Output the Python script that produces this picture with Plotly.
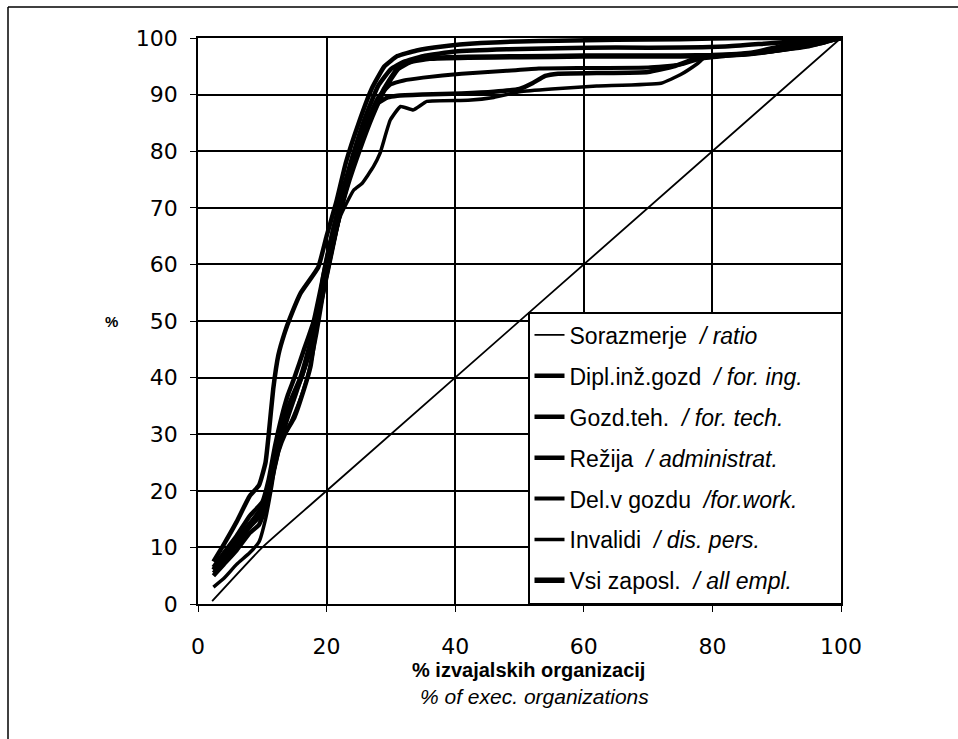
import plotly.graph_objects as go

# ---- data ----
ratio_x = [2.2, 10, 20, 100]
ratio_y = [0.5, 10, 20, 100]

dipl_x = [2.4, 4, 6, 8, 9.5, 10.5, 11, 11.7, 12.5, 13.5, 14.3, 16, 18.7, 20, 21.5, 23, 25, 27, 29, 31, 34, 38, 44, 50, 56, 65, 75, 85, 100]
dipl_y = [7.5, 10.5, 14.5, 19, 21, 25, 30, 38, 44, 48, 50.5, 55, 59.5, 65, 71, 78, 85, 91, 95, 96.8, 97.8, 98.5, 99.1, 99.4, 99.5, 99.7, 99.8, 100, 100]

teh_x = [2.4, 4, 6, 8, 10, 11, 12, 13, 14, 15, 16.5, 18, 19.5, 21, 22.5, 24, 26, 28, 30, 32, 35, 40, 48, 56, 65, 75, 82, 88, 95, 100]
teh_y = [6.5, 9, 12, 15.5, 18, 22, 28, 33, 37, 40, 45, 50, 58, 66, 73, 79, 86, 91.5, 94.5, 95.8, 96.8, 97.6, 98, 98.2, 98.3, 98.3, 98.5, 99, 99.6, 100]

rez_x = [2.4, 4, 6, 8, 9.5, 10.5, 11.5, 12.5, 13.5, 15, 16.5, 17.5, 18.5, 19.5, 21, 22.5, 24, 26, 28, 29.5, 31, 35, 41, 46, 50, 52, 54, 56, 62, 70, 74, 77, 80, 88, 95, 100]
rez_y = [5, 7, 9.5, 12.5, 14, 17, 22, 27, 30, 33, 38, 42, 50, 58, 66, 72, 78, 84, 88.5, 89.5, 89.8, 90, 90.2, 90.5, 91, 92, 93.3, 93.7, 93.8, 94, 95, 96.2, 96.8, 97.5, 98.8, 100]

del_x = [2.4, 4, 6, 8, 10, 11, 12.5, 14, 15.5, 17, 18.5, 20, 21.5, 23, 24.5, 26, 28, 30, 32, 35, 41, 48, 53, 60, 70, 75, 78, 82, 88, 95, 100]
del_y = [5.5, 7.5, 10.5, 13.5, 16, 20, 27, 33, 38, 43, 50, 58, 66, 73, 79, 84.5, 89.5, 91.8, 92.5, 93, 93.7, 94.2, 94.6, 94.7, 94.8, 95.3, 96.3, 96.8, 97.5, 98.5, 100]

inv_x = [2.4, 4, 6, 8, 9.5, 10.5, 11.5, 12.5, 14, 15.5, 17, 18.5, 20, 22.1, 24.2, 25.5, 27.3, 28.3, 29.9, 31.5, 33.5, 35.6, 42, 46, 50, 55, 62, 72, 75, 77.7, 79, 85, 92, 97, 100]
inv_y = [3, 4.5, 7, 9, 11, 15, 21, 28, 31, 35, 40, 48, 58, 68.4, 73.1, 74.3, 77.3, 79.6, 85.5, 87.9, 87.3, 88.8, 89, 89.5, 90.5, 91, 91.5, 92, 93.5, 95.5, 96.7, 97, 98, 99, 100]

vsi_x = [2.4, 4, 6, 8, 10, 11, 12, 13, 14.5, 16, 17.5, 19, 20.5, 22, 23.5, 25, 27, 29, 31, 33, 36, 42, 50, 60, 70, 80, 86, 90, 95, 100]
vsi_y = [6, 8, 11, 14, 17, 21, 26, 31, 36, 40, 46, 53, 61, 69, 75, 80, 86, 91, 94.5, 95.8, 96.4, 96.6, 96.7, 96.8, 96.8, 96.9, 97.3, 98.3, 99.5, 100]

NB = "\u00a0"
series = [
    ("Sorazmerje" + NB * 2 + "<i>/ ratio</i>", ratio_x, ratio_y, 1.8),
    ("Dipl.inž.gozd" + NB * 2 + "<i>/ for. ing.</i>" + NB * 5, dipl_x, dipl_y, 4.5),
    ("Gozd.teh." + NB * 2 + "<i>/ for. tech.</i>", teh_x, teh_y, 4.5),
    ("Režija" + NB * 2 + "<i>/ administrat.</i>", rez_x, rez_y, 4.5),
    ("Del.v gozdu" + NB * 2 + "<i>/for.work.</i>", del_x, del_y, 4),
    ("Invalidi" + NB * 2 + "<i>/ dis. pers.</i>", inv_x, inv_y, 3.5),
    ("Vsi zaposl." + NB * 2 + "<i>/ all empl.</i>", vsi_x, vsi_y, 5.5),
]

x_ticks = [0, 20, 40, 60, 80, 100]
y_ticks = [0, 10, 20, 30, 40, 50, 60, 70, 80, 90, 100]

fig = go.Figure()
for i, (name, xs, ys, w) in enumerate(series):
    fig.add_trace(go.Scatter(
        x=xs, y=ys, mode="lines", name=name, legendgroup=f"g{i}",
        line=dict(color="black", width=w, shape="spline", smoothing=0.4),
    ))

W, H = 958, 739
ml, mr, mt, mb = 198, 117, 38, 135
pw, ph = W - ml - mr, H - mt - mb

def px(xp):
    return (xp - ml) / pw

def py(yp):
    return (H - mb - yp) / ph

axis_common = dict(
    showgrid=True, gridcolor="black", gridwidth=1.5,
    showline=True, linecolor="black", linewidth=1.5, mirror=True,
    ticks="outside", ticklen=6, tickcolor="black", tickwidth=1.2,
    zeroline=False,
    tickfont=dict(family="DejaVu Sans", size=22, color="black"),
)

fig.update_layout(
    width=W, height=H,
    margin=dict(l=ml, r=mr, t=mt, b=mb),
    paper_bgcolor="white", plot_bgcolor="white",
    showlegend=True,
    legend=dict(
        x=px(528), y=py(312), xanchor="left", yanchor="top",
        bgcolor="white", bordercolor="black", borderwidth=1.5,
        font=dict(family="Liberation Sans", size=23, color="black"),
        tracegroupgap=8,
    ),
    xaxis=dict(range=[0, 100], tickvals=x_ticks, ticklabelstandoff=16, **axis_common),
    yaxis=dict(range=[0, 100], tickvals=y_ticks, ticklabelstandoff=8, **axis_common),
)

fig.add_annotation(
    x=px(528), y=py(683), xref="paper", yref="paper",
    text="<b>% izvajalskih organizacij</b>", showarrow=False,
    font=dict(family="Liberation Sans", size=20, color="black"),
)
fig.add_annotation(
    x=px(534), y=py(710), xref="paper", yref="paper",
    text="<i>% of exec. organizations</i>", showarrow=False,
    font=dict(family="Liberation Sans", size=21, color="black"),
)
fig.add_annotation(
    x=px(103), y=py(321), xref="paper", yref="paper",
    text="<b>%</b>", showarrow=False,
    font=dict(family="Liberation Sans", size=15, color="black"),
)

# outer frame of the scanned figure
fig.add_shape(type="line", xref="paper", yref="paper",
              x0=px(8), y0=py(7), x1=px(958), y1=py(7),
              line=dict(color="black", width=1.5))
fig.add_shape(type="line", xref="paper", yref="paper",
              x0=px(8), y0=py(7), x1=px(8), y1=py(739),
              line=dict(color="black", width=1.5))

fig.write_html("out.html")
